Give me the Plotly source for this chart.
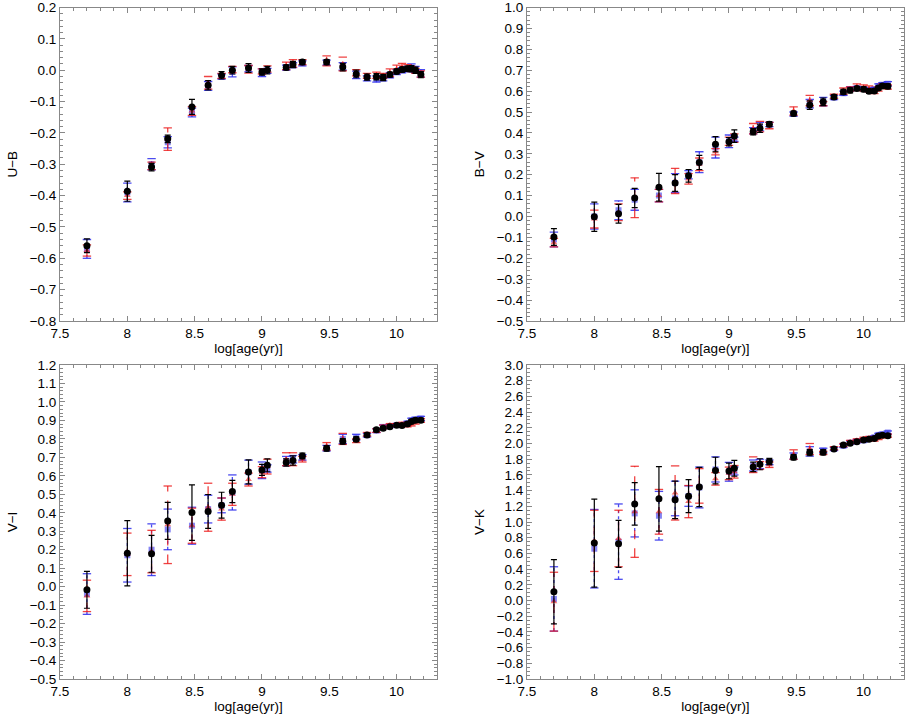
import plotly.graph_objects as go

# log[age(yr)] of the models
log_age = [7.70, 8.00, 8.18, 8.30, 8.48, 8.60, 8.70, 8.78, 8.90, 9.00, 9.04, 9.18, 9.23, 9.30,
           9.48, 9.60, 9.70, 9.78, 9.85, 9.90, 9.95, 10.00, 10.04, 10.08, 10.11, 10.14, 10.18]

# U-B
ub_black = [-0.560, -0.386, -0.309, -0.219, -0.117, -0.048, -0.016, 0.000, 0.007, -0.006, 0.000, 0.009, 0.018, 0.026,
            0.026, 0.010, -0.012, -0.022, -0.021, -0.023, -0.014, -0.004, 0.002, 0.005, 0.005, 0.000, -0.014]
ub_black_err = [0.022, 0.032, 0.012, 0.012, 0.024, 0.015, 0.012, 0.012, 0.014, 0.010, 0.012, 0.008, 0.010, 0.008,
                0.008, 0.012, 0.012, 0.010, 0.010, 0.010, 0.008, 0.008, 0.008, 0.008, 0.010, 0.010, 0.010]
ub_red = [-0.575, -0.400, -0.305, -0.220, -0.130, -0.040, -0.018, 0.002, 0.003, -0.004, 0.004, 0.014, 0.022, 0.026,
          0.030, 0.020, -0.008, -0.018, -0.016, -0.018, -0.008, 0.004, 0.010, 0.008, 0.004, -0.002, -0.012]
ub_red_err = [0.018, 0.012, 0.012, 0.036, 0.014, 0.020, 0.008, 0.010, 0.012, 0.008, 0.010, 0.012, 0.012, 0.008,
              0.016, 0.022, 0.010, 0.008, 0.010, 0.008, 0.012, 0.012, 0.012, 0.010, 0.008, 0.008, 0.010]
ub_blue = [-0.570, -0.390, -0.300, -0.230, -0.135, -0.050, -0.020, -0.005, 0.005, -0.008, -0.002, 0.008, 0.016, 0.022,
           0.024, 0.012, -0.015, -0.026, -0.028, -0.026, -0.016, -0.006, 0.000, 0.004, 0.008, 0.002, -0.010]
ub_blue_err = [0.030, 0.030, 0.018, 0.018, 0.014, 0.014, 0.008, 0.016, 0.010, 0.012, 0.008, 0.008, 0.008, 0.008,
               0.008, 0.012, 0.012, 0.008, 0.010, 0.008, 0.008, 0.008, 0.008, 0.008, 0.012, 0.010, 0.012]

# B-V
bv_black = [-0.098, -0.001, 0.013, 0.089, 0.140, 0.160, 0.195, 0.259, 0.346, 0.358, 0.385, 0.406, 0.422, 0.442,
            0.493, 0.533, 0.549, 0.572, 0.596, 0.604, 0.612, 0.609, 0.599, 0.601, 0.615, 0.625, 0.623]
bv_black_err = [0.040, 0.070, 0.045, 0.046, 0.066, 0.040, 0.030, 0.034, 0.036, 0.020, 0.030, 0.015, 0.020, 0.012,
                0.012, 0.020, 0.018, 0.010, 0.012, 0.012, 0.010, 0.012, 0.010, 0.010, 0.010, 0.010, 0.012]
bv_red = [-0.125, -0.012, 0.020, 0.090, 0.100, 0.170, 0.180, 0.250, 0.310, 0.360, 0.375, 0.420, 0.430, 0.435,
          0.505, 0.555, 0.540, 0.575, 0.600, 0.610, 0.620, 0.615, 0.610, 0.600, 0.610, 0.625, 0.620]
bv_red_err = [0.020, 0.043, 0.040, 0.095, 0.030, 0.060, 0.025, 0.030, 0.015, 0.020, 0.020, 0.025, 0.025, 0.015,
              0.020, 0.025, 0.010, 0.010, 0.015, 0.010, 0.015, 0.015, 0.015, 0.012, 0.010, 0.010, 0.010]
bv_blue = [-0.110, 0.000, 0.030, 0.080, 0.100, 0.160, 0.200, 0.260, 0.330, 0.360, 0.370, 0.410, 0.430, 0.440,
           0.490, 0.540, 0.550, 0.570, 0.590, 0.610, 0.615, 0.610, 0.605, 0.610, 0.625, 0.630, 0.635]
bv_blue_err = [0.035, 0.060, 0.045, 0.050, 0.030, 0.045, 0.020, 0.050, 0.050, 0.030, 0.010, 0.015, 0.020, 0.010,
               0.010, 0.020, 0.020, 0.010, 0.010, 0.010, 0.008, 0.008, 0.008, 0.008, 0.010, 0.010, 0.010]

# V-I
vi_black = [-0.017, 0.181, 0.178, 0.356, 0.401, 0.407, 0.441, 0.515, 0.621, 0.632, 0.657, 0.672, 0.683, 0.708,
            0.749, 0.787, 0.798, 0.821, 0.849, 0.857, 0.866, 0.874, 0.872, 0.881, 0.894, 0.901, 0.901]
vi_black_err = [0.100, 0.177, 0.100, 0.100, 0.150, 0.092, 0.070, 0.060, 0.065, 0.030, 0.035, 0.020, 0.025, 0.015,
                0.015, 0.015, 0.013, 0.010, 0.010, 0.010, 0.008, 0.008, 0.008, 0.010, 0.010, 0.010, 0.010]
vi_red = [-0.050, 0.175, 0.190, 0.335, 0.330, 0.430, 0.420, 0.500, 0.580, 0.620, 0.650, 0.690, 0.690, 0.690,
          0.760, 0.800, 0.790, 0.825, 0.845, 0.865, 0.875, 0.875, 0.880, 0.875, 0.880, 0.890, 0.900]
vi_red_err = [0.085, 0.115, 0.115, 0.210, 0.095, 0.130, 0.060, 0.060, 0.035, 0.030, 0.040, 0.035, 0.035, 0.015,
              0.020, 0.030, 0.010, 0.010, 0.010, 0.010, 0.008, 0.008, 0.010, 0.010, 0.010, 0.010, 0.010]
vi_blue = [-0.040, 0.170, 0.200, 0.310, 0.330, 0.420, 0.440, 0.510, 0.620, 0.630, 0.640, 0.680, 0.690, 0.700,
           0.750, 0.800, 0.810, 0.820, 0.845, 0.865, 0.870, 0.875, 0.875, 0.885, 0.900, 0.905, 0.910]
vi_blue_err = [0.110, 0.145, 0.140, 0.110, 0.100, 0.075, 0.040, 0.095, 0.065, 0.045, 0.020, 0.025, 0.020, 0.015,
               0.015, 0.025, 0.015, 0.010, 0.010, 0.010, 0.008, 0.008, 0.008, 0.010, 0.012, 0.012, 0.012]

# V-K
vk_black = [0.111, 0.731, 0.722, 1.231, 1.295, 1.282, 1.329, 1.447, 1.655, 1.651, 1.685, 1.702, 1.736, 1.770,
            1.825, 1.884, 1.889, 1.931, 1.982, 2.003, 2.024, 2.046, 2.054, 2.063, 2.097, 2.105, 2.100]
vk_black_err = [0.410, 0.560, 0.300, 0.270, 0.410, 0.240, 0.210, 0.250, 0.170, 0.100, 0.100, 0.060, 0.070, 0.040,
                0.035, 0.040, 0.035, 0.020, 0.020, 0.020, 0.020, 0.020, 0.020, 0.020, 0.020, 0.020, 0.020]
vk_red = [-0.015, 0.760, 0.790, 1.130, 1.130, 1.370, 1.260, 1.460, 1.550, 1.620, 1.640, 1.730, 1.720, 1.730,
          1.860, 1.930, 1.880, 1.940, 1.980, 2.020, 2.040, 2.060, 2.070, 2.050, 2.070, 2.090, 2.100]
vk_red_err = [0.375, 0.390, 0.360, 0.580, 0.285, 0.345, 0.205, 0.220, 0.080, 0.080, 0.080, 0.100, 0.050, 0.035,
              0.060, 0.070, 0.020, 0.020, 0.020, 0.020, 0.020, 0.020, 0.020, 0.020, 0.020, 0.020, 0.020]
vk_blue = [0.020, 0.660, 0.750, 1.110, 1.080, 1.300, 1.330, 1.440, 1.670, 1.640, 1.650, 1.720, 1.740, 1.760,
           1.840, 1.900, 1.910, 1.930, 1.970, 2.010, 2.030, 2.040, 2.060, 2.080, 2.110, 2.120, 2.140]
vk_blue_err = [0.410, 0.500, 0.480, 0.300, 0.310, 0.220, 0.130, 0.260, 0.160, 0.120, 0.050, 0.070, 0.060, 0.030,
               0.040, 0.060, 0.030, 0.020, 0.020, 0.020, 0.020, 0.020, 0.020, 0.020, 0.020, 0.020, 0.020]

panels = [
    ("U\u2212B", ub_black, ub_black_err, ub_red, ub_red_err, ub_blue, ub_blue_err, [-0.8, 0.2], 0.1, 0.02),
    ("B\u2212V", bv_black, bv_black_err, bv_red, bv_red_err, bv_blue, bv_blue_err, [-0.5, 1.0], 0.1, 0.02),
    ("V\u2212I", vi_black, vi_black_err, vi_red, vi_red_err, vi_blue, vi_blue_err, [-0.5, 1.2], 0.1, 0.02),
    ("V\u2212K", vk_black, vk_black_err, vk_red, vk_red_err, vk_blue, vk_blue_err, [-1.0, 3.0], 0.2, 0.05),
]

# panel boxes in paper fractions (905x717 page)
x_domains = [[0.0663, 0.4829], [0.5823, 0.9989], [0.0663, 0.4829], [0.5823, 0.9989]]
y_domains = [[0.5523, 0.9895], [0.5523, 0.9895], [0.0530, 0.4909], [0.0530, 0.4909]]

font = dict(family="Liberation Sans, Arial, sans-serif", size=13.5, color="black")


def add_styled_errors(fig, xs, ys, errs, color, dash, marker, ax):
    # dashed/dotted stems drawn as segments, caps as short horizontal markers
    sx, sy = [], []
    for x, y, e in zip(xs, ys, errs):
        sx += [x, x, None]
        sy += [y - e, y + e, None]
    fig.add_trace(go.Scatter(x=sx, y=sy, mode="lines", xaxis="x" + ax, yaxis="y" + ax,
                             line=dict(color=color, width=1.3, dash=dash),
                             hoverinfo="skip", showlegend=False))
    cx = list(xs) + list(xs)
    cy = [y - e for y, e in zip(ys, errs)] + [y + e for y, e in zip(ys, errs)]
    fig.add_trace(go.Scatter(x=cx, y=cy, mode="markers", xaxis="x" + ax, yaxis="y" + ax,
                             marker=dict(symbol="line-ew", size=6, line=dict(color=color, width=1.3)),
                             hoverinfo="skip", showlegend=False))
    fig.add_trace(go.Scatter(x=xs, y=ys, mode="markers", xaxis="x" + ax, yaxis="y" + ax,
                             marker=marker, showlegend=False))


fig = go.Figure()
for i, (name, yb, eb, yr, er, ybl, ebl, yrange, dtick, minor) in enumerate(panels):
    ax = "" if i == 0 else str(i + 1)
    # blue squares, dotted bars
    add_styled_errors(fig, log_age, ybl, ebl, "rgba(30,30,235,0.8)", "dot",
                      dict(symbol="square", size=6, color="rgba(50,50,235,0.6)"), ax)
    # red triangles, dashed bars
    add_styled_errors(fig, log_age, yr, er, "rgba(235,20,20,0.8)", "dash",
                      dict(symbol="triangle-up", size=6, color="rgba(235,30,30,0.65)"), ax)
    # black circles, solid bars
    fig.add_trace(go.Scatter(
        x=log_age, y=yb, mode="markers", xaxis="x" + ax, yaxis="y" + ax,
        marker=dict(symbol="circle", size=7, color="black"),
        error_y=dict(type="data", array=eb, color="black", thickness=1.2, width=3),
        showlegend=False))

    axis_common = dict(showline=True, linecolor="#888888", linewidth=1, mirror="ticks",
                       ticks="inside", ticklen=5, tickcolor="#888888", showgrid=False,
                       zeroline=False, tickfont=font, automargin=False, ticklabeloverflow="allow")
    fig.update_layout({
        "xaxis" + ax: dict(domain=x_domains[i], range=[7.5, 10.3], dtick=0.5, tick0=7.5,
                           anchor="y" + ax,
                           minor=dict(dtick=0.1, ticks="inside", ticklen=3, tickcolor="#888888"),
                           title=dict(text="log[age(yr)]", font=font, standoff=2),
                           **axis_common),
        "yaxis" + ax: dict(domain=y_domains[i], range=yrange, dtick=dtick, tick0=0,
                           anchor="x" + ax, tickformat=".1f",
                           minor=dict(dtick=minor, ticks="inside", ticklen=3, tickcolor="#888888"),
                           title=dict(text=name, font=font, standoff=8),
                           **axis_common),
    })

fig.update_layout(width=905, height=717, margin=dict(l=0, r=0, t=0, b=0),
                  paper_bgcolor="white", plot_bgcolor="white", font=font)

fig.write_html("out.html", config={"displayModeBar": False},
               post_script="document.body.style.margin='0';")
